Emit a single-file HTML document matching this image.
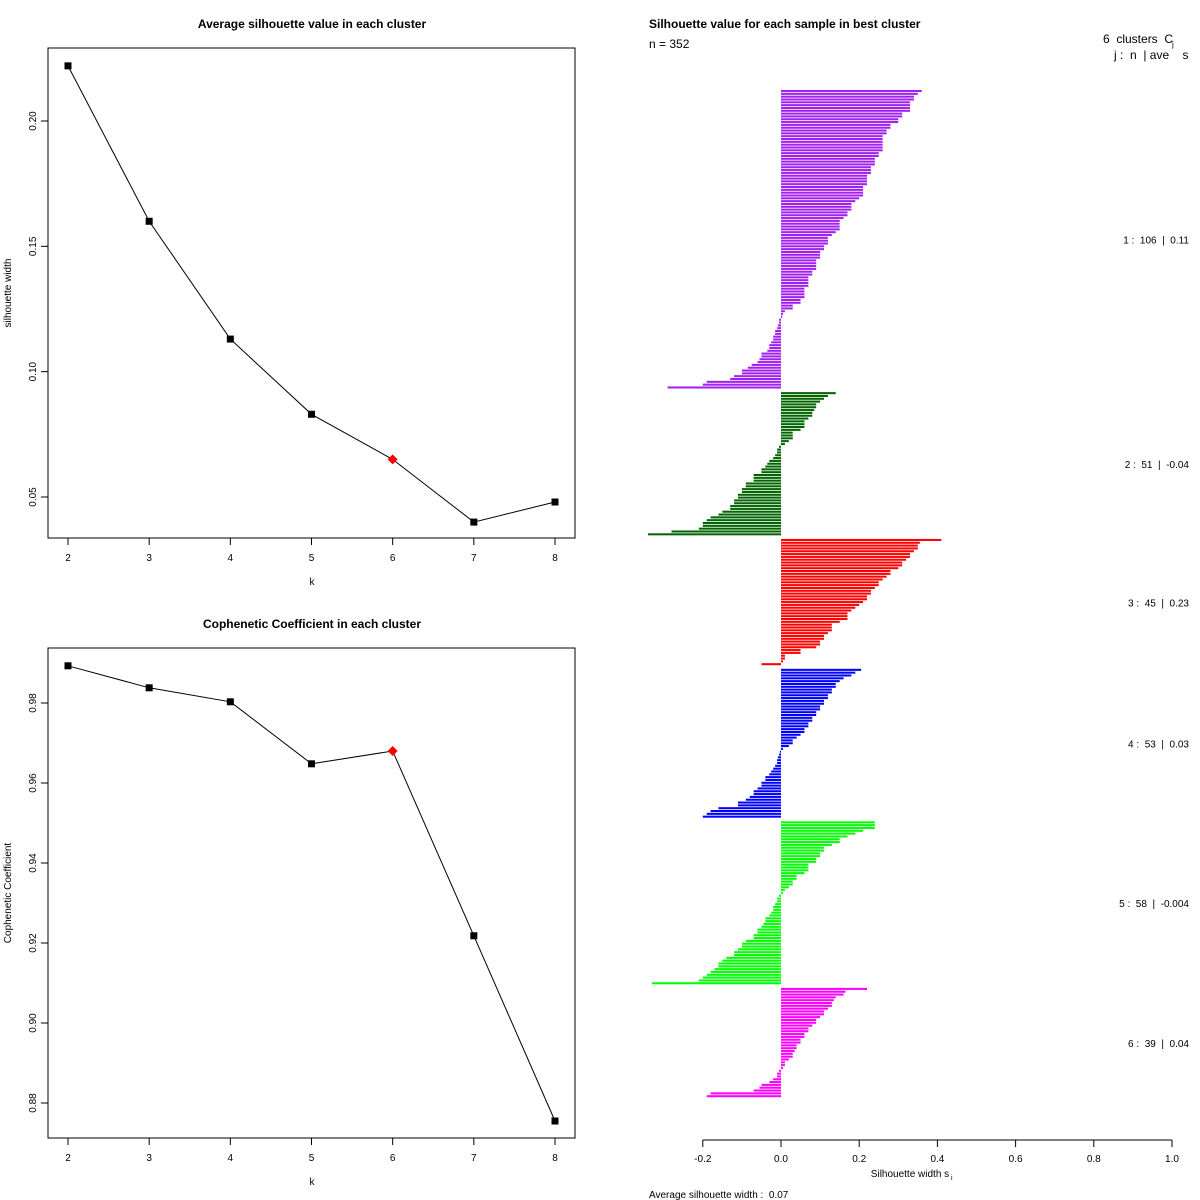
<!DOCTYPE html>
<html><head><meta charset="utf-8">
<style>
html,body{margin:0;padding:0;background:#fff;}
svg{display:block;font-family:"Liberation Sans",Arial,sans-serif;}
text{white-space:pre;}
</style></head>
<body>
<svg id="chart" width="1200" height="1200" viewBox="0 0 1200 1200" xmlns="http://www.w3.org/2000/svg">
<rect x="0" y="0" width="1200" height="1200" fill="#fff"/>
<g id="p1"></g>
<g id="p2"></g>
<g id="p3"></g>
</svg>
<script>
const kValues = [2,3,4,5,6,7,8];
const silValues = [0.222,0.160,0.113,0.083,0.065,0.040,0.048];
const silTicks = [0.05,0.10,0.15,0.20];
const copValues = [0.9893,0.9838,0.9803,0.9648,0.968,0.9218,0.8755];
const copTicks = [0.88,0.90,0.92,0.94,0.96,0.98];
const bestK = 6;

const clusterColors = ["#a020f0","#006400","#ff0000","#0000ff","#00ff00","#ff00ff"];
const clusterLabels = ["1 :  106  |  0.11","2 :  51  |  -0.04","3 :  45  |  0.23","4 :  53  |  0.03","5 :  58  |  -0.004","6 :  39  |  0.04"];
const sil1 = [0.36,0.35,0.34,0.34,0.33,0.33,0.33,0.33,0.31,0.31,0.30,0.30,0.28,0.28,0.27,0.27,0.26,0.26,0.26,0.26,0.26,0.26,0.25,0.25,0.24,0.24,0.24,0.23,0.23,0.23,0.22,0.22,0.22,0.22,0.21,0.21,0.21,0.21,0.20,0.19,0.18,0.18,0.18,0.17,0.17,0.16,0.15,0.15,0.15,0.15,0.14,0.13,0.12,0.12,0.12,0.11,0.11,0.10,0.10,0.10,0.09,0.09,0.09,0.09,0.08,0.08,0.07,0.07,0.07,0.07,0.06,0.06,0.06,0.06,0.05,0.05,0.03,0.03,0.01,0.005,0.003,-0.005,-0.005,-0.008,-0.01,-0.015,-0.015,-0.02,-0.02,-0.025,-0.03,-0.03,-0.035,-0.05,-0.05,-0.055,-0.06,-0.075,-0.085,-0.1,-0.1,-0.12,-0.13,-0.19,-0.2,-0.29];
const sil2 = [0.14,0.12,0.11,0.1,0.09,0.09,0.085,0.08,0.08,0.07,0.06,0.06,0.06,0.05,0.03,0.03,0.03,0.02,0.01,-0.005,-0.01,-0.01,-0.015,-0.02,-0.03,-0.035,-0.04,-0.05,-0.05,-0.07,-0.07,-0.07,-0.09,-0.09,-0.1,-0.1,-0.11,-0.11,-0.12,-0.12,-0.13,-0.13,-0.15,-0.16,-0.18,-0.19,-0.2,-0.2,-0.21,-0.28,-0.34];
const sil3 = [0.41,0.355,0.35,0.35,0.34,0.33,0.33,0.32,0.31,0.31,0.3,0.28,0.28,0.27,0.26,0.25,0.25,0.24,0.23,0.23,0.22,0.22,0.21,0.2,0.19,0.18,0.17,0.17,0.17,0.15,0.13,0.13,0.13,0.12,0.11,0.11,0.1,0.1,0.09,0.05,0.05,0.01,0.01,0.005,-0.05];
const sil4 = [0.205,0.19,0.18,0.16,0.15,0.14,0.14,0.13,0.13,0.12,0.12,0.11,0.11,0.1,0.1,0.09,0.09,0.08,0.08,0.07,0.07,0.06,0.06,0.05,0.04,0.03,0.03,0.02,0.005,-0.003,-0.005,-0.008,-0.01,-0.01,-0.015,-0.02,-0.025,-0.03,-0.04,-0.04,-0.05,-0.05,-0.06,-0.07,-0.07,-0.08,-0.09,-0.11,-0.11,-0.16,-0.18,-0.19,-0.2];
const sil5 = [0.24,0.24,0.24,0.21,0.19,0.17,0.15,0.15,0.13,0.11,0.11,0.1,0.1,0.09,0.09,0.07,0.07,0.07,0.06,0.04,0.04,0.03,0.03,0.02,0.01,0.005,-0.005,-0.01,-0.01,-0.015,-0.02,-0.02,-0.025,-0.03,-0.04,-0.04,-0.045,-0.05,-0.06,-0.06,-0.07,-0.07,-0.09,-0.1,-0.1,-0.11,-0.12,-0.12,-0.14,-0.15,-0.16,-0.16,-0.17,-0.18,-0.19,-0.2,-0.21,-0.33];
const sil6 = [0.22,0.165,0.16,0.14,0.135,0.13,0.13,0.12,0.11,0.11,0.1,0.09,0.09,0.08,0.07,0.07,0.06,0.06,0.05,0.05,0.04,0.04,0.035,0.03,0.03,0.02,0.01,0.01,0.005,-0.005,-0.01,-0.01,-0.02,-0.03,-0.05,-0.055,-0.07,-0.18,-0.19];
const silXTicks = [-0.2,0,0.2,0.4,0.6,0.8,1.0];
const silXTickLabels = ["-0.2","0.0","0.2","0.4","0.6","0.8","1.0"];

const NS="http://www.w3.org/2000/svg";
function mk(parent,tag,attrs,text){const e=document.createElementNS(NS,tag);for(const k in attrs)e.setAttribute(k,attrs[k]);if(text!==undefined)e.textContent=text;parent.appendChild(e);return e;}

// frameTop/frameBottom: plot box; pxLo/pxHi: pixel y of yLo/yHi
function linePanel(g,title,yTitle,vals,ticks,yLo,yHi,pxLo,pxHi,frameTop,frameBottom){
  const L=48,R=575;
  const xs=k=>68+(k-2)*(555-68)/6;
  const ys=v=>pxLo+(v-yLo)/(yHi-yLo)*(pxHi-pxLo);
  const box=mk(g,'rect',{x:L,y:frameTop,width:R-L,height:frameBottom-frameTop,fill:'none',stroke:'#000','stroke-width':1});
  
  const t=mk(g,'text',{x:312,y:frameTop-20,'text-anchor':'middle','font-size':12,'font-weight':'bold'},title);
  
  const fy=frameBottom;
  kValues.forEach(k=>{mk(g,'line',{x1:xs(k),x2:xs(k),y1:fy,y2:fy+7,stroke:'#000'});
    const tl=mk(g,'text',{x:xs(k),y:fy+23,'text-anchor':'middle','font-size':10},String(k));
    });
  const xt=mk(g,'text',{x:312,y:fy+47,'text-anchor':'middle','font-size':10},'k');
  
  ticks.forEach(v=>{const y=ys(v);mk(g,'line',{x1:L,x2:L-7,y1:y,y2:y,stroke:'#000'});
    const tl=mk(g,'text',{x:0,y:0,'text-anchor':'middle','font-size':10,transform:`translate(36,${y}) rotate(-90)`},v.toFixed(2));
    });
  const yt=mk(g,'text',{x:0,y:0,'text-anchor':'middle','font-size':10,transform:`translate(11,${(frameTop+frameBottom)/2}) rotate(-90)`},yTitle);
  
  const pts=kValues.map((k,i)=>xs(k)+','+ys(vals[i])).join(' ');
  const pl=mk(g,'polyline',{points:pts,fill:'none',stroke:'#000','stroke-width':1});
  
  kValues.forEach((k,i)=>{const x=xs(k),y=ys(vals[i]);let m;
    if(k===bestK){m=mk(g,'polygon',{points:`${x},${y-5} ${x+5},${y} ${x},${y+5} ${x-5},${y}`,fill:'#ff0000'});}
    else{m=mk(g,'rect',{x:x-3.5,y:y-3.5,width:7,height:7,fill:'#000'});}
    });
}
linePanel(document.getElementById('p1'),'Average silhouette value in each cluster','silhouette width',silValues,silTicks,0.05,0.20,497,121,48,538);
linePanel(document.getElementById('p2'),'Cophenetic Coefficient in each cluster','Cophenetic Coefficient',copValues,copTicks,0.88,0.98,1103,703,648,1138);

(function(){
  const g=document.getElementById('p3');
  const xs=v=>781+v*391;
  const clusters=[sil1,sil2,sil3,sil4,sil5,sil6];
  const total=clusters.reduce((a,c)=>a+c.length,0)+(clusters.length-1);
  const y0=90,y1=1098,step=(y1-y0)/total;
  let row=0;
  clusters.forEach((c,ci)=>{
    const start=row;
    c.forEach(v=>{const y=y0+row*step;const x=Math.min(xs(0),xs(v));const w=Math.max(Math.abs(xs(v)-xs(0)),0.6);
      const b=mk(g,'rect',{x:x,y:y,width:w,height:step*0.72,fill:clusterColors[ci]});
      row++;});
    const mid=y0+(start+c.length/2)*step;
    const lb=mk(g,'text',{x:1189,y:mid+4,'text-anchor':'end','font-size':10},clusterLabels[ci]);
    
    row++;
  });
  mk(g,'line',{x1:xs(-0.2),x2:xs(1.0),y1:1140,y2:1140,stroke:'#000'});
  silXTicks.forEach((v,i)=>{mk(g,'line',{x1:xs(v),x2:xs(v),y1:1140,y2:1147,stroke:'#000'});
    const tl=mk(g,'text',{x:xs(v),y:1162,'text-anchor':'middle','font-size':10},silXTickLabels[i]);
    });
  const xt=mk(g,'text',{x:910,y:1177,'text-anchor':'middle','font-size':10},'Silhouette width s');
  
  mk(g,'text',{x:951,y:1180,'font-size':7},'i');
  const t=mk(g,'text',{x:649,y:28,'font-size':12,'font-weight':'bold'},'Silhouette value for each sample in best cluster');
  
  const n=mk(g,'text',{x:649,y:48,'font-size':12},'n = 352');
  
  const h1=mk(g,'text',{x:1103,y:43,'font-size':12},'6  clusters  C');
  
  mk(g,'text',{x:1172,y:47,'font-size':8},'j');
  const h2=mk(g,'text',{x:1114,y:59,'font-size':12},'j :  n  | ave    s');
  
  const a=mk(g,'text',{x:649,y:1198,'font-size':10},'Average silhouette width :  0.07');
  
})();
</script>
</body></html>
